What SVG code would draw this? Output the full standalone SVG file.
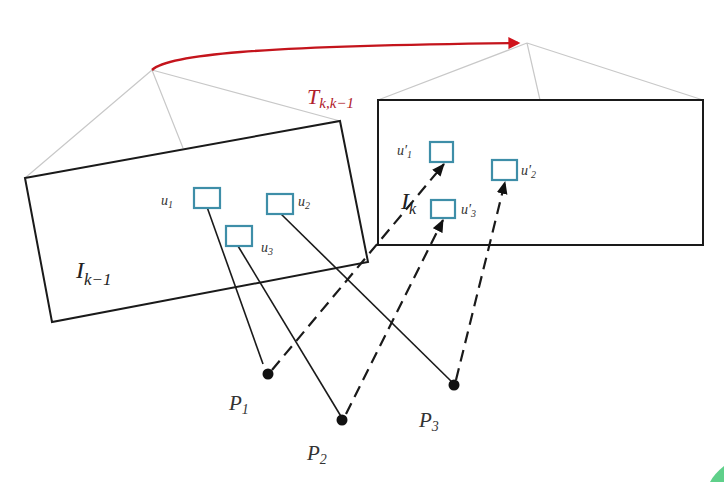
<svg xmlns="http://www.w3.org/2000/svg" width="724" height="482" viewBox="0 0 724 482">
<defs>
<marker id="ah" viewBox="0 0 12 10" refX="11" refY="5" markerWidth="13" markerHeight="11" orient="auto" markerUnits="userSpaceOnUse">
<path d="M0,0 L12,5 L0,10 z" fill="#111"/>
</marker>
<marker id="rh" viewBox="0 0 10 10" refX="8" refY="5" markerWidth="14" markerHeight="12" orient="auto" markerUnits="userSpaceOnUse">
<path d="M0,0 L10,5 L0,10 z" fill="#d0121b"/>
</marker>
<style>
.frame{fill:none;stroke:#1a1a1a;stroke-width:2}
.proj{fill:none;stroke:#c8c8c8;stroke-width:1.2}
.kp{fill:#fff;stroke:#3e8ea8;stroke-width:2.2}
.sol{fill:none;stroke:#1a1a1a;stroke-width:1.6}
.dash{fill:none;stroke:#1a1a1a;stroke-width:2.2;stroke-dasharray:12,7}
.lbl{font-family:"Liberation Serif",serif;font-style:italic;fill:#333}
.sm{font-size:14px}
.big{font-size:24px;fill:#222}
</style>
</defs>
<g id="projection-lines">
<path class="proj" d="M152,70 L25,178 M152,70 L183,148 M152,70 L340,121"/>
<path class="proj" d="M527,43 L378,100 M527,43 L540,100 M527,43 L703,100"/>
</g>
<g id="frame-k-1">
<polygon class="frame" points="25,178 340,121 368,262 52,322"/>
<text class="lbl big" x="76" y="278">I<tspan font-size="17" dy="7">k−1</tspan></text>
</g>
<g id="frame-k">
<rect class="frame" x="378" y="100" width="325" height="145"/>
<text class="lbl big" x="401" y="209" font-size="22">I<tspan font-size="16" dy="5">k</tspan></text>
</g>
<g id="transform">
<path d="M152,70 C168,55 250,46 518,43" fill="none" stroke="#c4141c" stroke-width="2.4" marker-end="url(#rh)"/>
<text class="lbl" x="307" y="104" font-size="22" style="fill:#b0202a">T<tspan font-size="15" dy="4">k,k−1</tspan></text>
</g>
<g id="connectors">
<line class="sol" x1="207" y1="207" x2="263" y2="364"/>
<line class="sol" x1="238" y1="246" x2="342" y2="418"/>
<line class="sol" x1="280" y1="213" x2="453" y2="383"/>
<line class="dash" x1="272" y1="370" x2="444" y2="164" marker-end="url(#ah)"/>
<line class="dash" x1="346" y1="414" x2="443" y2="220" marker-end="url(#ah)"/>
<line class="dash" x1="456" y1="380" x2="505" y2="182" marker-end="url(#ah)"/>
</g>
<g id="u1"><rect class="kp" x="194" y="188" width="26" height="20"/><text class="lbl sm" x="161" y="205">u<tspan font-size="10" dy="3">1</tspan></text></g>
<g id="u2"><rect class="kp" x="267" y="194" width="26" height="20"/><text class="lbl sm" x="298" y="206">u<tspan font-size="10" dy="3">2</tspan></text></g>
<g id="u3"><rect class="kp" x="226" y="226" width="26" height="20"/><text class="lbl sm" x="261" y="252">u<tspan font-size="10" dy="3">3</tspan></text></g>
<g id="u1p"><rect class="kp" x="430" y="142" width="23" height="20"/><text class="lbl sm" x="397" y="155">u′<tspan font-size="10" dy="3">1</tspan></text></g>
<g id="u2p"><rect class="kp" x="492" y="160" width="25" height="20"/><text class="lbl sm" x="521" y="175">u′<tspan font-size="10" dy="3">2</tspan></text></g>
<g id="u3p"><rect class="kp" x="431" y="200" width="24" height="18"/><text class="lbl sm" x="461" y="214">u′<tspan font-size="10" dy="3">3</tspan></text></g>
<g id="P1"><circle cx="268" cy="374" r="5.5" fill="#111"/><text class="lbl" x="229" y="410" font-size="21">P<tspan font-size="14" dy="4">1</tspan></text></g>
<g id="P2"><circle cx="342" cy="420" r="5.5" fill="#111"/><text class="lbl" x="307" y="460" font-size="21">P<tspan font-size="14" dy="4">2</tspan></text></g>
<g id="P3"><circle cx="454" cy="385" r="5.5" fill="#111"/><text class="lbl" x="419" y="427" font-size="21">P<tspan font-size="14" dy="4">3</tspan></text></g>
<path d="M724,466 Q714,474 710,482 L724,482 z" fill="#5fd08a"/>
</svg>
